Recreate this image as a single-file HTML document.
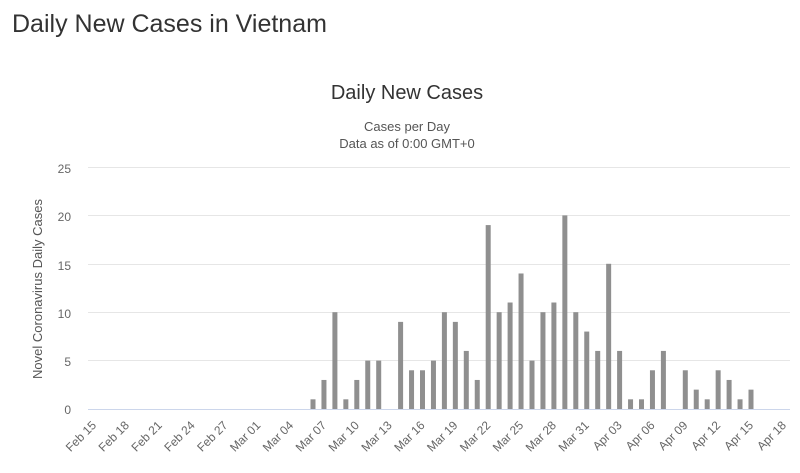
<!DOCTYPE html>
<html><head><meta charset="utf-8"><style>
body{margin:0;background:#fff;width:800px;height:468px;overflow:hidden;font-family:"Liberation Sans",sans-serif}
</style></head><body>
<svg width="800" height="468" xmlns="http://www.w3.org/2000/svg" font-family="Liberation Sans, sans-serif">
<text x="12" y="32" font-size="25" fill="#333">Daily New Cases in Vietnam</text>
<text x="407" y="99" font-size="20" fill="#333" text-anchor="middle">Daily New Cases</text>
<text x="407" y="131" font-size="13" fill="#555" text-anchor="middle">Cases per Day</text>
<text x="407" y="148" font-size="13" fill="#555" text-anchor="middle">Data as of 0:00 GMT+0</text>
<g stroke="#e6e6e6" stroke-width="1">
<line x1="88" x2="790" y1="167.5" y2="167.5"/><line x1="88" x2="790" y1="215.5" y2="215.5"/>
<line x1="88" x2="790" y1="264.5" y2="264.5"/><line x1="88" x2="790" y1="312.5" y2="312.5"/>
<line x1="88" x2="790" y1="360.5" y2="360.5"/>
</g>
<g font-size="12" fill="#666" text-anchor="end">
<text x="71" y="173">25</text><text x="71" y="221">20</text><text x="71" y="270">15</text>
<text x="71" y="318">10</text><text x="71" y="366">5</text><text x="71" y="414">0</text>
</g>
<text transform="translate(42,289) rotate(-90)" font-size="13" fill="#555" text-anchor="middle">Novel Coronavirus Daily Cases</text>
<g id="bars" fill="#8f8f8f"></g>
<line x1="88" x2="790" y1="409.5" y2="409.5" stroke="#ccd6eb" stroke-width="1"/>
<g id="lbl" font-size="12" fill="#666" text-anchor="end"></g>
</svg>
<script>
var vals=[1,3,10,1,3,5,5,0,9,4,4,5,10,9,6,3,19,10,11,14,5,10,11,20,10,8,6,15,6,1,1,4,6,0,4,2,1,4,3,1,2];
var ns="http://www.w3.org/2000/svg",b=document.getElementById('bars'),l=document.getElementById('lbl');
function cx(d){return 94+10.95*d;}
vals.forEach(function(v,i){if(!v)return;var d=20+i,h=v*9.68;var r=document.createElementNS(ns,'rect');
r.setAttribute('x',cx(d)-2.5);r.setAttribute('width',5);r.setAttribute('y',409-h);r.setAttribute('height',h);b.appendChild(r);});
var labs=["Feb 15","Feb 18","Feb 21","Feb 24","Feb 27","Mar 01","Mar 04","Mar 07","Mar 10","Mar 13","Mar 16","Mar 19","Mar 22","Mar 25","Mar 28","Mar 31","Apr 03","Apr 06","Apr 09","Apr 12","Apr 15","Apr 18"];
labs.forEach(function(s,i){var x=cx(i*3)+3,y=426;var t=document.createElementNS(ns,'text');
t.setAttribute('transform','translate('+x+','+y+') rotate(-45)');t.textContent=s;l.appendChild(t);});
</script>
</body></html>
